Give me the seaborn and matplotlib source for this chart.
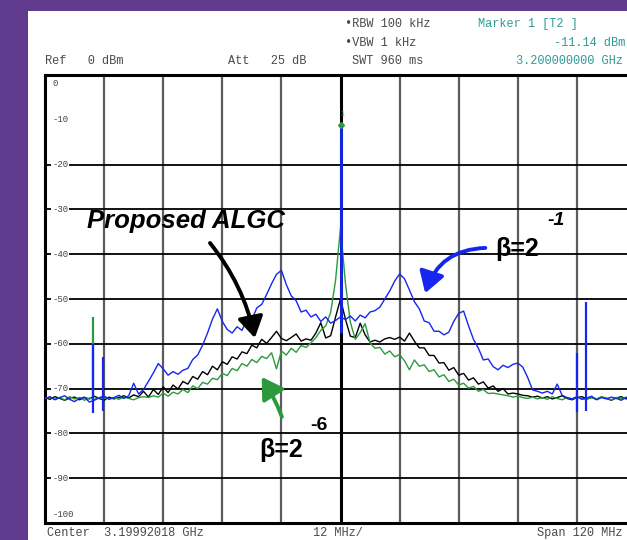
import numpy as np
import matplotlib
matplotlib.use("Agg")
import matplotlib.pyplot as plt
import seaborn as sns
from matplotlib.patches import Rectangle

sns.set_style("white")
plt.rcParams["font.family"] = ["Liberation Sans", "DejaVu Sans"]

# ----------------------------------------------------
# Data (offset from center frequency, MHz / level, dBm)
# ----------------------------------------------------
freq_mhz = list(range(-60, 61))

beta_1 = [  # blue, beta = 2^-1
    -72.3, -71.8, -72.5, -72.0, -71.6, -72.4, -72.9, -72.2, -71.9, -73.0,
    -72.6, -72.1, -71.7, -72.4, -72.0, -71.5, -72.2, -71.6, -68.8, -71.2,
    -70.2, -68.4, -66.5, -64.4, -65.6, -67.0, -66.2, -66.8, -65.9, -65.5,
    -63.5, -62.5, -60.3, -57.6, -54.5, -52.2, -55.0, -56.8, -57.6, -56.2,
    -57.0, -54.6, -54.6, -52.0, -51.2, -49.0, -46.6, -44.5, -43.6, -46.8,
    -49.3, -50.4, -52.9, -52.5, -54.0, -53.4, -55.0, -54.0, -55.4, -54.8,
    -54.0,
    -54.6, -53.8, -54.9, -53.6, -54.2, -52.9, -52.6, -51.8, -50.0, -48.2,
    -46.0, -44.4, -45.5, -48.0, -50.6, -52.2, -54.9, -55.3, -57.2, -57.2,
    -58.0, -57.4, -55.0, -53.2, -52.7, -56.0, -59.0, -61.0, -63.6, -63.4,
    -65.1, -65.8, -64.8, -65.3, -64.6, -64.3, -65.2, -67.5, -70.3, -70.6,
    -71.0, -70.6, -71.2, -69.0, -71.5, -72.0, -72.3, -71.8, -72.4, -72.1,
    -71.7, -72.5, -72.0, -72.3, -71.9, -72.2, -72.6, -72.0, -72.4, -72.1,
]

algc = [  # black, proposed ALGC
    -72.0, -72.4, -71.8, -72.2, -72.6, -72.1, -71.9, -72.5, -72.0, -72.3,
    -71.7, -72.2, -72.6, -71.9, -72.3, -72.0, -71.6, -72.1, -71.4, -71.8,
    -70.6, -71.9, -70.2, -71.3, -69.6, -70.9, -69.2, -70.1, -68.4, -69.0,
    -67.3, -67.9, -66.2, -66.9, -65.0, -65.8, -64.0, -64.6, -62.9, -63.4,
    -61.8, -62.2, -60.3, -60.9, -59.0, -59.9, -58.6, -57.2, -58.8, -59.3,
    -58.6, -57.8, -59.4, -58.9, -59.2, -57.6, -55.3, -58.7, -58.2, -54.0,
    -50.0,
    -54.5, -58.3, -58.6, -55.4, -58.0, -59.6, -59.2, -59.6, -58.9, -58.6,
    -59.0, -58.5, -59.4, -57.6, -59.4, -60.9, -60.9, -62.6, -62.6, -64.3,
    -64.2, -65.9, -65.3, -67.0, -66.6, -68.1, -67.6, -69.0, -68.5, -69.9,
    -69.4, -70.6, -70.0, -71.2, -71.0, -71.2, -71.5, -71.6, -71.9, -71.7,
    -72.1, -71.8, -72.3, -72.0, -71.6, -72.2, -72.5, -72.0, -71.8, -72.3,
    -72.0, -72.4, -71.9, -72.2, -72.6, -72.1, -71.8, -72.3, -72.0, -72.4,
]

beta_6 = [  # green, beta = 2^-6
    -72.2, -71.9, -72.4, -72.0, -72.5, -71.8, -72.3, -72.0, -72.6, -72.1,
    -72.4, -72.0, -71.7, -72.3, -72.0, -72.4, -71.9, -72.2, -72.5, -72.0,
    -71.8, -72.0, -71.6, -71.9, -71.0, -71.7, -70.8, -71.2, -70.2, -70.9,
    -69.4, -70.0, -68.6, -69.0, -67.7, -68.0, -66.6, -67.1, -65.5, -66.0,
    -64.4, -65.0, -63.5, -64.2, -62.8, -63.3, -62.0, -65.6, -61.6, -62.5,
    -61.0, -61.9, -60.4, -60.8, -59.8, -58.6, -57.0, -56.0, -53.0, -45.8,
    -34.0,
    -46.5, -55.2, -59.0, -57.5, -55.5, -59.8, -61.0, -60.8, -62.3, -61.6,
    -62.9, -62.4, -63.8, -65.8, -63.6, -65.0, -64.7, -66.2, -65.8, -67.4,
    -66.9, -68.4, -67.9, -69.2, -68.8, -69.9, -69.5, -70.6, -70.2, -71.1,
    -71.0, -71.2, -71.4, -71.6, -71.9, -71.7, -72.0, -72.2, -71.9, -72.3,
    -72.0, -72.4, -71.8, -72.2, -72.5, -72.0, -72.3, -71.9, -72.2, -72.4,
    -72.0, -72.3, -71.8, -72.1, -72.5, -72.0, -72.3, -71.9, -72.2, -72.0,
]

# narrow spurs and carrier (frequency, top, bottom)
blue_spur_freq = [-50.3, -48.3, 48.1, 49.9]
blue_spur_top = [-60.0, -63.0, -62.0, -50.7]
blue_spur_bottom = [-75.5, -75.0, -75.2, -75.0]
green_spur_freq = [-50.3]
green_spur_top = [-54.0]
green_spur_bottom = [-72.0]
carrier_freq = 0.0
carrier_level = -11.14
carrier_base = -57.5

y_ticks = [0, -10, -20, -30, -40, -50, -60, -70, -80, -90, -100]

BLUE = "#1426f0"
GREEN = "#2a9a3c"
PURPLE = "#613b8e"
HDR = "#4a4a4a"
TEAL = "#2f9a98"
MONO = ["Liberation Mono", "DejaVu Sans Mono"]

W, H = 627, 540


def fp(x, y):
    # pixel -> figure fraction
    return x / W, 1 - y / H


fig = plt.figure(figsize=(W / 100, H / 100), dpi=100)
fig.patch.set_facecolor(PURPLE)
fig.add_artist(Rectangle((28 / W, 0), 1, 1 - 11 / H, transform=fig.transFigure,
                         facecolor="white", edgecolor="none", zorder=0))

ax = fig.add_axes([45 / W, (H - 523) / H, 591 / W, 448 / H])
ax.set_facecolor("white")
ax.set_xlim(-60, 60)
ax.set_ylim(-100, 0)
ax.set_xticks([])
ax.set_yticks([])
for s in ax.spines.values():
    s.set_linewidth(2.2)
    s.set_color("black")

# graticule
for f in range(-48, 49, 12):
    if f == 0:
        ax.axvline(f, color="black", lw=2.2, zorder=1)
    else:
        ax.axvline(f, color="#5c5c5c", lw=1.6, zorder=1)
for d in range(-20, -99, -10):
    ax.axhline(d, color="black", lw=1.3, zorder=1)

ytr = ax.get_yaxis_transform()
for d in y_ticks:
    yy = d
    if d == 0:
        yy = -1.8
    elif d == -100:
        yy = -98.0
    ax.text(0.012, yy, str(d), transform=ytr, family=MONO, fontsize=6.5,
            color="#444444", va="center", ha="left", zorder=2,
            bbox=dict(facecolor="white", edgecolor="none", pad=0.6))

# traces
sns.lineplot(x=freq_mhz, y=algc, color="black", lw=1.0, ax=ax, zorder=3)
sns.lineplot(x=freq_mhz, y=beta_6, color=GREEN, lw=1.0, ax=ax, zorder=4)
sns.lineplot(x=freq_mhz, y=beta_1, color=BLUE, lw=1.0, ax=ax, zorder=5)
ax.vlines(green_spur_freq, green_spur_bottom, green_spur_top, color=GREEN, lw=1.6, zorder=4)
ax.vlines(blue_spur_freq, blue_spur_bottom, blue_spur_top, color=BLUE, lw=1.6, zorder=5)
ax.vlines([carrier_freq], [carrier_base], [carrier_level], color=BLUE, lw=2.0, zorder=6)
ax.plot([carrier_freq], [carrier_level], marker="D", ms=3, color=GREEN, zorder=7)
ax.text(carrier_freq + 0.4, carrier_level + 2.0, "1", fontsize=5, color=TEAL, ha="center", zorder=7)

# annotations
lbl = dict(color="black", fontweight="bold", ha="left", va="center", zorder=8)
ax.text(-51.4, -32.6, "Proposed ALGC", fontsize=18.5, style="italic", **lbl)
ax.text(31.4, -38.8, "β=2", fontsize=18, **lbl)
ax.text(42.0, -32.4, "-1", fontsize=14, style="italic", **lbl)
ax.text(-16.4, -83.6, "β=2", fontsize=18, **lbl)
ax.text(-6.2, -78.3, "-6", fontsize=14, **lbl)

arrow = dict(arrowstyle="-|>,head_length=0.9,head_width=0.55", mutation_scale=14,
             shrinkA=0, shrinkB=0)
ax.annotate("", xy=(-17.4, -58.7), xytext=(-26.5, -37.5),
            arrowprops=dict(color="black", lw=2.8, connectionstyle="arc3,rad=-0.12", **arrow), zorder=8)
ax.annotate("", xy=(17.2, -48.7), xytext=(29.4, -38.6),
            arrowprops=dict(color=BLUE, lw=2.8, connectionstyle="arc3,rad=0.35", **arrow), zorder=8)
ax.annotate("", xy=(-16.0, -67.4), xytext=(-11.9, -76.3),
            arrowprops=dict(color=GREEN, lw=2.8, connectionstyle="arc3,rad=0.05", **arrow), zorder=8)

# instrument header / footer
hdr = dict(family=MONO, fontsize=8.6, color=HDR, va="center", ha="left")
fig.text(*fp(45, 61), "Ref   0 dBm", **hdr)
fig.text(*fp(228, 61), "Att   25 dB", **hdr)
fig.text(*fp(345, 24), "\u2022RBW 100 kHz", **hdr)
fig.text(*fp(345, 43), "\u2022VBW 1 kHz", **hdr)
fig.text(*fp(352, 61), "SWT 960 ms", **hdr)
fig.text(*fp(478, 24), "Marker 1 [T2 ]", **{**hdr, "color": TEAL})
fig.text(*fp(625, 43), "-11.14 dBm", **{**hdr, "color": TEAL, "ha": "right"})
fig.text(*fp(516, 61), "3.200000000 GHz", **{**hdr, "color": TEAL})
fig.text(*fp(47, 533), "Center  3.19992018 GHz", **hdr)
fig.text(*fp(313, 533), "12 MHz/", **hdr)
fig.text(*fp(537, 533), "Span 120 MHz", **hdr)

fig.savefig("out.png", dpi=100, facecolor=fig.get_facecolor())
